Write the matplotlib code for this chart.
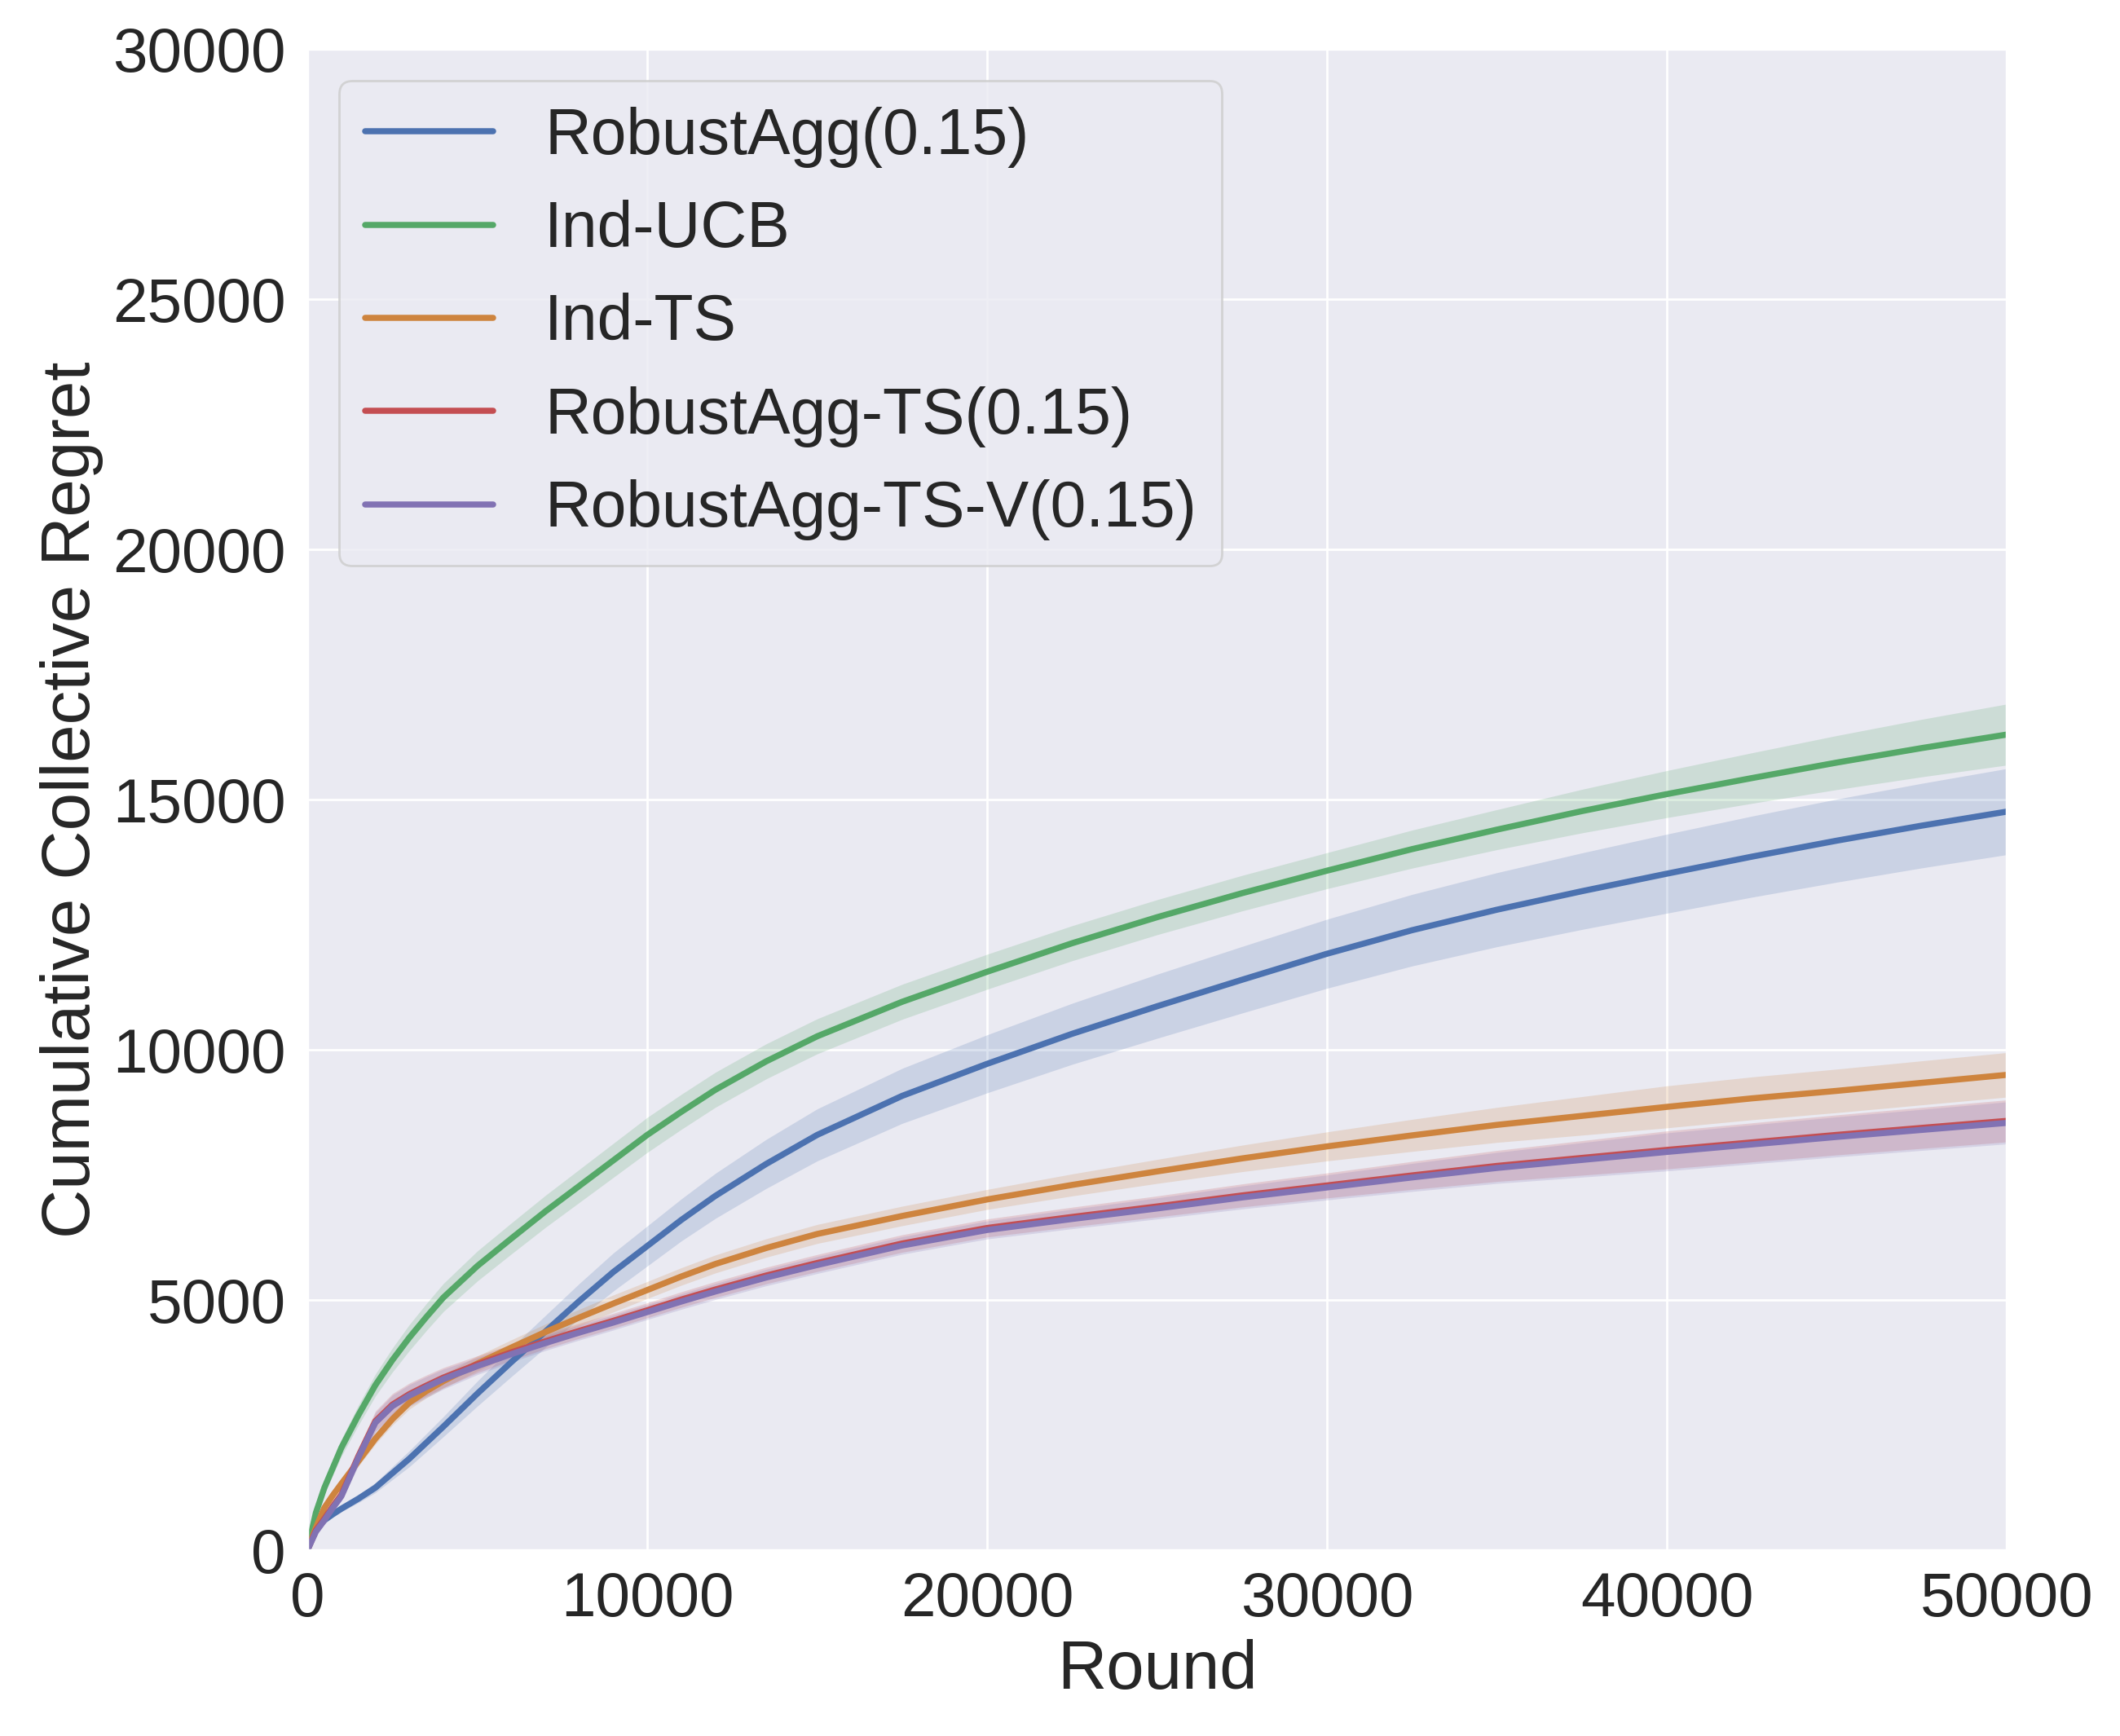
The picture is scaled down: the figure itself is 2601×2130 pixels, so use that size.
import matplotlib
matplotlib.use("Agg")
import matplotlib.pyplot as plt
import seaborn as sns
import numpy as np

sns.set_theme(style="darkgrid", font_scale=2.5)
plt.rcParams['font.family'] = ['Liberation Sans', 'DejaVu Sans']

rounds = [0, 250, 500, 750, 1000, 1500, 2000, 2500, 3000, 3500, 4000, 5000,
          6000, 7000, 8000, 9000, 10000, 11000, 12000, 13500, 15000, 17500,
          20000, 22500, 25000, 27500, 30000, 32500, 35000, 37500, 40000, 42500,
          45000, 47500, 50000]

robustagg = [0, 420, 600, 720, 830, 1030, 1250, 1540, 1830, 2150, 2470, 3130,
             3760, 4370, 4980, 5560, 6080, 6600, 7080, 7720, 8300, 9080, 9720,
             10320, 10870, 11400, 11920, 12390, 12800, 13170, 13520, 13860,
             14180, 14480, 14760]
ind_ucb = [0, 750, 1250, 1650, 2050, 2700, 3300, 3800, 4250, 4660, 5050, 5680,
           6230, 6770, 7280, 7790, 8300, 8760, 9200, 9770, 10270, 10960, 11560,
           12130, 12650, 13130, 13580, 14010, 14400, 14770, 15110, 15430, 15740,
           16030, 16300]
ind_ts = [0, 450, 850, 1100, 1330, 1780, 2230, 2620, 2950, 3180, 3380, 3730,
          4050, 4360, 4650, 4930, 5200, 5470, 5720, 6040, 6320, 6680, 7010,
          7300, 7570, 7830, 8070, 8290, 8500, 8680, 8860, 9030, 9180, 9340, 9500]
robustagg_ts = [0, 400, 630, 880, 1110, 1880, 2580, 2910, 3120, 3290, 3450,
                3715, 3955, 4175, 4385, 4585, 4795, 5010, 5210, 5490, 5740, 6130,
                6440, 6660, 6870, 7090, 7290, 7490, 7680, 7840, 8000, 8150, 8300,
                8440, 8580]
robustagg_ts_v = [0, 370, 600, 850, 1080, 1850, 2550, 2880, 3090, 3260, 3420,
                  3680, 3920, 4140, 4350, 4550, 4760, 4970, 5170, 5450, 5700,
                  6090, 6400, 6620, 6830, 7050, 7250, 7450, 7640, 7800, 7960,
                  8110, 8260, 8400, 8540]

# half width of the shaded bands
robustagg_err = [0, 30, 40, 50, 60, 80, 100, 130, 160, 180, 200, 250, 290, 320,
                 350, 380, 400, 420, 450, 490, 520, 550, 580, 610, 640, 665, 690,
                 715, 740, 765, 790, 810, 830, 845, 860]
ind_ucb_err = [0, 80, 120, 150, 170, 200, 220, 240, 260, 270, 280, 300, 310,
               320, 330, 340, 350, 350, 350, 350, 350, 350, 350, 350, 350, 355,
               360, 380, 400, 435, 470, 505, 540, 575, 610]
ind_ts_err = [0, 50, 70, 80, 90, 100, 110, 120, 130, 135, 140, 150, 155, 160,
              165, 170, 170, 175, 180, 185, 190, 195, 200, 220, 240, 265, 290,
              320, 350, 385, 420, 428, 435, 440, 445]
robustagg_ts_err = [0, 40, 60, 80, 100, 160, 200, 220, 220, 210, 200, 170, 160,
                    150, 150, 150, 150, 155, 160, 165, 170, 175, 180, 195, 210,
                    230, 250, 280, 310, 345, 380, 390, 400, 410, 420]
robustagg_ts_v_err = [0, 40, 60, 80, 100, 160, 200, 220, 220, 210, 200, 170,
                      160, 150, 150, 150, 150, 155, 160, 165, 170, 175, 180, 195,
                      210, 230, 250, 280, 310, 345, 380, 390, 400, 410, 420]

labels = ["RobustAgg(0.15)", "Ind-UCB", "Ind-TS", "RobustAgg-TS(0.15)",
          "RobustAgg-TS-V(0.15)"]
colors = ["#4C72B0", "#55A868", "#CE843E", "#C44E52", "#8172B3"]

series = [robustagg, ind_ucb, ind_ts, robustagg_ts, robustagg_ts_v]
errors = [robustagg_err, ind_ucb_err, ind_ts_err, robustagg_ts_err,
          robustagg_ts_v_err]

fig, ax = plt.subplots(figsize=(13.005, 10.65), dpi=200)
fig.subplots_adjust(left=0.145, right=0.9466, top=0.9718, bottom=0.107)

x = np.array(rounds)
for vals, err, lab, col in zip(series, errors, labels, colors):
    v = np.array(vals)
    e = np.array(err)
    ax.fill_between(x, v - e, v + e, color=col, alpha=0.2, linewidth=0)
    ax.plot(x, v, color=col, linewidth=2.7, label=lab)

ax.set_xlim(0, 50000)
ax.set_ylim(0, 30000)
ax.set_xticks([0, 10000, 20000, 30000, 40000, 50000])
ax.set_yticks([0, 5000, 10000, 15000, 20000, 25000, 30000])
ax.set_xlabel("Round")
ax.set_ylabel("Cumulative Collective Regret")
ax.legend(loc="upper left", fontsize=28.3)

fig.savefig("out.png", dpi=200)
